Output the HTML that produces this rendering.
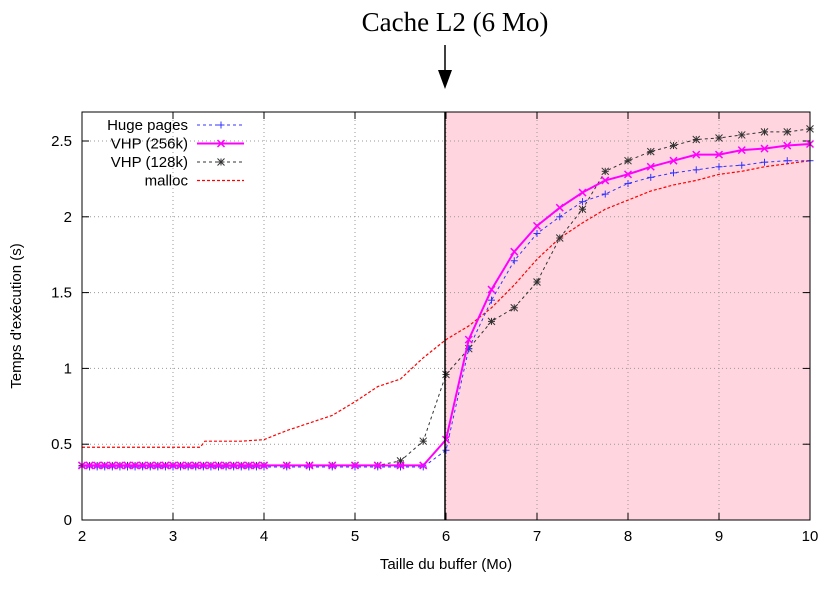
<!DOCTYPE html>
<html><head><meta charset="utf-8"><style>
body{margin:0;background:#fff}
svg text{font-family:"Liberation Sans",sans-serif;font-size:15px}
</style></head><body>
<svg id="s" width="825" height="590" xmlns="http://www.w3.org/2000/svg">
<rect x="445" y="112" width="365" height="408" fill="#ffd6e0"/>
<g id="grid" stroke="#999" stroke-width="1" stroke-dasharray="1,3"></g>
<g id="ticks" stroke="#000" stroke-width="1"></g>
<g id="series"></g>
<rect x="82" y="112" width="728" height="408" fill="none" stroke="#000"/>
<line x1="445" y1="112" x2="445" y2="520" stroke="#000" stroke-width="1.5"/>
<text x="455" y="31" text-anchor="middle" style="font-family:'Liberation Serif',serif;font-size:27px">Cache L2 (6 Mo)</text>
<line x1="445" y1="45" x2="445" y2="75" stroke="#000" stroke-width="1.5"/>
<polygon points="438,70 452,70 445,89" fill="#000"/>
<text x="446" y="569" text-anchor="middle">Taille du buffer (Mo)</text>
<text transform="translate(21,316) rotate(-90)" text-anchor="middle">Temps d'exécution (s)</text>
<g id="legend"></g>
</svg>
<script>
var NS="http://www.w3.org/2000/svg",s=document.getElementById('s');
function X(v){return 82+(v-2)*91}function Y(v){return 520-v*151.6}
function el(t,a,p){var e=document.createElementNS(NS,t);for(var k in a)e.setAttribute(k,a[k]);(p||s).appendChild(e);return e}
var g=document.getElementById('grid'),tk=document.getElementById('ticks');
for(var i=2;i<=10;i++){var x=X(i);if(i>2&&i<10)el('line',{x1:x,y1:112,x2:x,y2:520},g);
el('line',{x1:x,y1:520,x2:x,y2:513},tk);el('line',{x1:x,y1:112,x2:x,y2:119},tk);
var t=el('text',{x:x,y:541,'text-anchor':'middle'});t.textContent=i;}
[0,0.5,1,1.5,2,2.5].forEach(function(v){var y=Y(v);if(v>0)el('line',{x1:82,y1:y,x2:810,y2:y},g);
el('line',{x1:82,y1:y,x2:89,y2:y},tk);el('line',{x1:810,y1:y,x2:803,y2:y},tk);
var t=el('text',{x:72,y:y+5,'text-anchor':'end'});t.textContent=v;});
var xs=[];for(var v=2;v<4.0001;v+=1/12)xs.push(+v.toFixed(4));
var tail=[];for(var v=4.25;v<=10.001;v+=0.25)tail.push(v);
function build(lowY,lowUntil,extra){var p=[];xs.concat(tail).forEach(function(x){if(x<=lowUntil+1e-6)p.push([x,lowY]);});
extra.forEach(function(e){p.push(e)});return p;}
var hp=build(0.35,5.75,[[6,.46],[6.25,1.13],[6.5,1.45],[6.75,1.71],[7,1.89],[7.25,2.0],[7.5,2.1],[7.75,2.15],[8,2.22],[8.25,2.26],[8.5,2.29],[8.75,2.31],[9,2.33],[9.25,2.34],[9.5,2.36],[9.75,2.37],[10,2.37]]);
var v256=build(0.36,5.75,[[6,.53],[6.25,1.19],[6.5,1.52],[6.75,1.77],[7,1.94],[7.25,2.06],[7.5,2.16],[7.75,2.24],[8,2.28],[8.25,2.33],[8.5,2.37],[8.75,2.41],[9,2.41],[9.25,2.44],[9.5,2.45],[9.75,2.47],[10,2.48]]);
var v128=build(0.36,5.25,[[5.5,.39],[5.75,.52],[6,.96],[6.25,1.13],[6.5,1.31],[6.75,1.40],[7,1.57],[7.25,1.86],[7.5,2.05],[7.75,2.30],[8,2.37],[8.25,2.43],[8.5,2.47],[8.75,2.51],[9,2.52],[9.25,2.54],[9.5,2.56],[9.75,2.56],[10,2.58]]);
var mal=[[2,.48],[3.3,.48],[3.35,.52],[3.75,.52],[4,.53],[4.25,.59],[4.5,.64],[4.75,.69],[5,.78],[5.25,.88],[5.5,.93],[5.75,1.07],[6,1.19],[6.25,1.28],[6.5,1.40],[6.75,1.55],[7,1.72],[7.25,1.86],[7.5,1.96],[7.75,2.05],[8,2.11],[8.25,2.17],[8.5,2.21],[8.75,2.24],[9,2.28],[9.25,2.30],[9.5,2.33],[9.75,2.35],[10,2.37]];
var sg=document.getElementById('series');
function mark(type,x,y,c,w,p){var d=3.5;
if(type=='+'||type=='*'){el('line',{x1:x-d,y1:y,x2:x+d,y2:y,stroke:c,'stroke-width':w},p);el('line',{x1:x,y1:y-d,x2:x,y2:y+d,stroke:c,'stroke-width':w},p);}
if(type=='x'||type=='*'){el('line',{x1:x-d,y1:y-d,x2:x+d,y2:y+d,stroke:c,'stroke-width':w},p);el('line',{x1:x-d,y1:y+d,x2:x+d,y2:y-d,stroke:c,'stroke-width':w},p);}}
function series(pts,c,w,dash,m){el('polyline',{points:pts.map(function(q){return X(q[0])+','+Y(q[1])}).join(' '),fill:'none',stroke:c,'stroke-width':w,'stroke-dasharray':dash},sg);
if(m)pts.forEach(function(q){mark(m,X(q[0]),Y(q[1]),c,1,sg)});}
series(mal,'#f00',1.2,'3,2',null);
series(v128,'#333',1,'3,3','*');
series(hp,'#33f',1,'3,3','+');
series(v256,'#f0f',2,'',null);v256.forEach(function(q){mark('x',X(q[0]),Y(q[1]),'#f0f',1.5,sg)});
var lg=document.getElementById('legend');
[['Huge pages','#33f',1,'3,3','+'],['VHP (256k)','#f0f',2,'','x'],['VHP (128k)','#333',1,'3,3','*'],['malloc','#f00',1.2,'3,2',null]].forEach(function(L,i){
var y=125+i*18.5;var t=el('text',{x:188,y:y+5,'text-anchor':'end'},lg);t.textContent=L[0];
el('line',{x1:197,y1:y,x2:244,y2:y,stroke:L[1],'stroke-width':L[2],'stroke-dasharray':L[3]},lg);
if(L[4])mark(L[4],221,y,L[1],L[4]=='x'?1.5:1,lg);});
</script>
</body></html>
